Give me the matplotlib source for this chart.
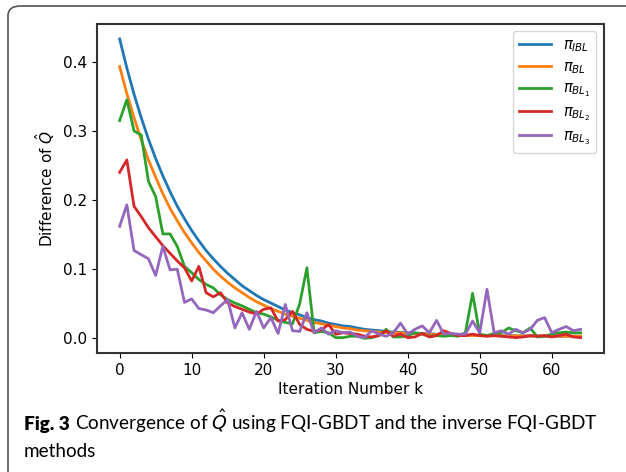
import numpy as np
import matplotlib
matplotlib.use("Agg")
import matplotlib.pyplot as plt
from matplotlib.patches import FancyBboxPatch

# iteration index
k = list(range(65))

# pi_IBL
q_ibl = [0.433, 0.391, 0.353, 0.319, 0.288, 0.260, 0.235, 0.212, 0.191, 0.173,
         0.156, 0.141, 0.127, 0.115, 0.104, 0.094, 0.085, 0.076, 0.069, 0.062,
         0.056, 0.051, 0.046, 0.041, 0.037, 0.034, 0.030, 0.027, 0.025, 0.022,
         0.020, 0.018, 0.017, 0.015, 0.013, 0.012, 0.011, 0.010, 0.009, 0.0085,
         0.008, 0.0075, 0.007, 0.0065, 0.006, 0.0055, 0.005, 0.0048, 0.0046, 0.0044,
         0.0042, 0.004, 0.0039, 0.0038, 0.0037, 0.0036, 0.0035, 0.0034, 0.0033, 0.0033,
         0.0032, 0.0032, 0.0031, 0.0031, 0.003]
# pi_BL
q_bl = [0.393, 0.354, 0.319, 0.287, 0.258, 0.233, 0.209, 0.188, 0.170, 0.153,
        0.138, 0.124, 0.112, 0.100, 0.090, 0.081, 0.073, 0.066, 0.059, 0.053,
        0.048, 0.043, 0.039, 0.035, 0.032, 0.029, 0.026, 0.023, 0.021, 0.019,
        0.017, 0.015, 0.014, 0.012, 0.011, 0.010, 0.009, 0.0085, 0.008, 0.0078,
        0.0075, 0.007, 0.0065, 0.006, 0.0055, 0.005, 0.0047, 0.0045, 0.0043, 0.0041,
        0.004, 0.0038, 0.0037, 0.0036, 0.0035, 0.0034, 0.0033, 0.0033, 0.0032, 0.0032,
        0.0031, 0.0031, 0.003, 0.003, 0.003]
# pi_BL1
q_bl1 = [0.315, 0.345, 0.300, 0.294, 0.227, 0.205, 0.151, 0.151, 0.133, 0.104,
         0.095, 0.085, 0.078, 0.073, 0.063, 0.056, 0.051, 0.047, 0.042, 0.037,
         0.035, 0.031, 0.026, 0.023, 0.021, 0.050, 0.102, 0.008, 0.010, 0.008,
         0.001, 0.001, 0.003, 0.003, 0.000, 0.001, 0.004, 0.013, 0.002, 0.002,
         0.004, 0.008, 0.006, 0.003, 0.004, 0.003, 0.004, 0.003, 0.008, 0.065,
         0.006, 0.004, 0.007, 0.008, 0.015, 0.011, 0.008, 0.015, 0.002, 0.003,
         0.006, 0.008, 0.009, 0.008, 0.008]
# pi_BL2
q_bl2 = [0.240, 0.258, 0.191, 0.176, 0.160, 0.147, 0.134, 0.123, 0.112, 0.102,
         0.083, 0.104, 0.066, 0.060, 0.066, 0.051, 0.046, 0.042, 0.038, 0.035,
         0.042, 0.044, 0.025, 0.027, 0.039, 0.020, 0.013, 0.010, 0.012, 0.020,
         0.006, 0.008, 0.007, 0.006, 0.003, 0.002, 0.004, 0.011, 0.003, 0.006,
         0.001, 0.002, 0.007, 0.002, 0.004, 0.011, 0.007, 0.004, 0.004, 0.006,
         0.004, 0.003, 0.004, 0.003, 0.002, 0.001, 0.002, 0.004, 0.003, 0.004,
         0.002, 0.004, 0.006, 0.002, 0.001]
# pi_BL3
q_bl3 = [0.162, 0.193, 0.127, 0.121, 0.115, 0.091, 0.133, 0.099, 0.100, 0.052,
         0.057, 0.043, 0.041, 0.037, 0.047, 0.056, 0.015, 0.037, 0.013, 0.039,
         0.015, 0.030, 0.007, 0.049, 0.011, 0.010, 0.037, 0.008, 0.015, 0.006,
         0.011, 0.008, 0.009, 0.003, 0.001, 0.011, 0.006, 0.003, 0.008, 0.022,
         0.006, 0.013, 0.018, 0.008, 0.026, 0.006, 0.007, 0.006, 0.006, 0.025,
         0.008, 0.071, 0.008, 0.011, 0.006, 0.013, 0.008, 0.013, 0.026, 0.030,
         0.008, 0.013, 0.017, 0.011, 0.013]

labels = [r"$\pi_{IBL}$", r"$\pi_{BL}$", r"$\pi_{BL_1}$", r"$\pi_{BL_2}$", r"$\pi_{BL_3}$"]

fig = plt.figure(figsize=(6.26, 4.72), dpi=100)

# rounded frame around the figure
frame = FancyBboxPatch((8 / 626, -0.1), 1.2, 1.1 - 6 / 472,
                       boxstyle="round,pad=0,rounding_size=0.02",
                       transform=fig.transFigure, fill=False,
                       edgecolor="#555555", linewidth=1.2)
fig.patches.append(frame)

ax = fig.add_axes([0.1543, 0.2515, 0.81, 0.6977])
for ys, lab in zip([q_ibl, q_bl, q_bl1, q_bl2, q_bl3], labels):
    ax.plot(k, ys, label=lab, linewidth=2)

ax.set_xlabel("Iteration Number k", fontsize=11, labelpad=3, family="DejaVu Sans")
ax.set_ylabel(r"Difference of $\hat{Q}$", fontsize=11, family="DejaVu Sans")
ax.set_xticks([0, 10, 20, 30, 40, 50, 60])
ax.set_yticks([0.0, 0.1, 0.2, 0.3, 0.4])
ax.tick_params(labelsize=11, labelfontfamily="DejaVu Sans")
for sp in ax.spines.values():
    sp.set_linewidth(1.5)
    sp.set_color("#333333")
ax.legend(loc="upper right", fontsize=10.5, labelspacing=0.35, handlelength=2.2)

# caption, sized so that the first line spans the width of the reference
cap_y1 = 1 - 430 / 472
cap_y2 = 1 - 457 / 472
cfam = "Lato"
fs = 15
t1 = fig.text(24 / 626, cap_y1, "Fig. 3", fontsize=fs, fontweight="heavy",
              family=cfam, va="baseline")
t2 = fig.text(0, cap_y1,
              r"Convergence of $\hat{Q}$ using FQI-GBDT and the inverse FQI-GBDT",
              fontsize=fs, family=cfam, va="baseline")
fig.canvas.draw()
r = fig.canvas.get_renderer()
w = t1.get_window_extent(r).width + 5 + t2.get_window_extent(r).width
fs = fs * 572 / w
t1.set_fontsize(fs)
t2.set_fontsize(fs)
fig.canvas.draw()
bb = t1.get_window_extent(r)
t2.set_x((bb.x1 + 5) / 626)
fig.text(24 / 626, cap_y2, "methods", fontsize=fs, family=cfam, va="baseline")

fig.savefig("out.png", dpi=100)
